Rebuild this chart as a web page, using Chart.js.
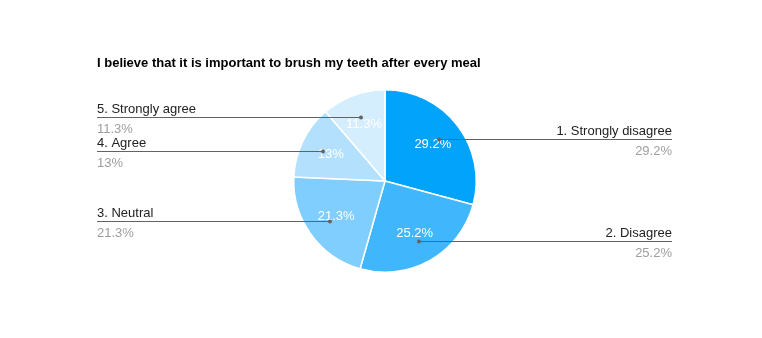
<!DOCTYPE html>
<html>
<head>
<meta charset="utf-8">
<script src="https://cdn.jsdelivr.net/npm/chart.js@4.4.1/dist/chart.umd.min.js"></script>
<style>
  html, body { margin: 0; padding: 0; background: #fff; }
  #wrap { width: 762px; height: 338px; }
</style>
</head>
<body>
<div id="wrap"><canvas id="chart" width="762" height="338"></canvas></div>
<script>
const title = 'I believe that it is important to brush my teeth after every meal';
const labels = ['1. Strongly disagree', '2. Disagree', '3. Neutral', '4. Agree', '5. Strongly agree'];
const values = [29.2, 25.2, 21.3, 13, 11.3];
const valueText = ['29.2%', '25.2%', '21.3%', '13%', '11.3%'];
const colors = ['#01a3fb', '#40b6fc', '#80cefd', '#b3e1fd', '#d4eefd'];

const FONT = 'Arial, "Liberation Sans", sans-serif';

// draws the title, inner percentages and the leader-line legend
const labelPlugin = {
  id: 'labelPlugin',
  afterDraw(chart) {
    const ctx = chart.ctx;
    const arcs = chart.getDatasetMeta(0).data;
    ctx.save();

    ctx.font = 'bold 13px ' + FONT;
    ctx.fillStyle = '#000';
    ctx.textAlign = 'left';
    ctx.textBaseline = 'alphabetic';
    ctx.fillText(title, 97, 67);

    arcs.forEach((arc, i) => {
      const mid = (arc.startAngle + arc.endAngle) / 2;
      const r = arc.outerRadius;

      // percentage inside the slice
      const tx = arc.x + Math.cos(mid) * r * 0.66;
      const ty = arc.y + Math.sin(mid) * r * 0.66;
      ctx.font = '13px ' + FONT;
      ctx.fillStyle = '#fff';
      ctx.textAlign = 'center';
      ctx.textBaseline = 'middle';
      ctx.fillText(valueText[i], tx, ty);

      // leader line
      const dx = Math.round(arc.x + Math.cos(mid) * r * 0.75);
      const dy = Math.round(arc.y + Math.sin(mid) * r * 0.75) + 0.5;
      const right = Math.cos(mid) > 0;
      const endX = right ? 672 : 97;
      ctx.strokeStyle = '#636363';
      ctx.lineWidth = 1;
      ctx.beginPath();
      ctx.moveTo(dx, dy);
      ctx.lineTo(endX, dy);
      ctx.stroke();
      ctx.fillStyle = '#636363';
      ctx.beginPath();
      ctx.arc(dx, dy, 2, 0, Math.PI * 2);
      ctx.fill();

      ctx.textAlign = right ? 'right' : 'left';
      ctx.font = '13px ' + FONT;
      ctx.fillStyle = '#222';
      ctx.textBaseline = 'alphabetic';
      ctx.fillText(labels[i], endX, dy - 5);
      ctx.fillStyle = '#9e9e9e';
      ctx.textBaseline = 'top';
      ctx.fillText(valueText[i], endX, dy + 5);
    });
    ctx.restore();
  }
};

new Chart(document.getElementById('chart'), {
  type: 'pie',
  data: {
    labels: labels,
    datasets: [{
      data: values,
      backgroundColor: colors,
      borderColor: '#ffffff',
      borderWidth: 1.5
    }]
  },
  options: {
    responsive: false,
    animation: false,
    layout: { padding: { top: 89, bottom: 65, left: 200, right: 192 } },
    plugins: {
      legend: { display: false },
      tooltip: { enabled: false },
      title: { display: false }
    }
  },
  plugins: [labelPlugin]
});
</script>
</body>
</html>
